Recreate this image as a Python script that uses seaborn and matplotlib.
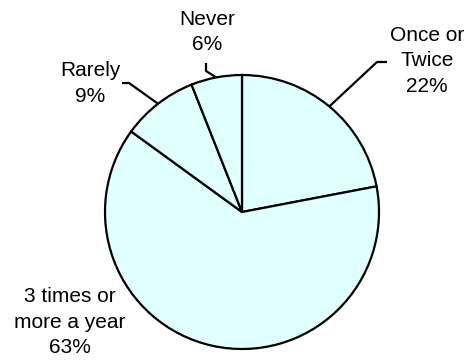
import numpy as np
import matplotlib
matplotlib.use("Agg")
import matplotlib.pyplot as plt
import seaborn as sns

# Survey answers, drawn clockwise from 12 o'clock
categories = ["Once or\nTwice", "3 times or\nmore a year", "Rarely", "Never"]
shares = [22, 63, 9, 6]
pct_labels = ["22%", "63%", "9%", "6%"]

sns.set_theme(style="white")
plt.rcParams["font.family"] = ["Liberation Sans", "DejaVu Sans"]

fig = plt.figure(figsize=(4.68, 3.6), dpi=100)
ax = fig.add_axes([0, 0, 1, 1])

center = (242, 148)
radius = 137
wedges, _ = ax.pie(
    shares,
    startangle=90,
    counterclock=False,
    center=center,
    radius=radius,
    colors=["#e0ffff"] * len(shares),
    wedgeprops=dict(edgecolor="black", linewidth=1.6),
    frame=True,
)
ax.set_xlim(0, 468)
ax.set_ylim(0, 360)
ax.set_aspect("equal")
ax.axis("off")

# label placement: text centre, leader elbow, leader end (None = no leader)
layout = [
    dict(text=(427, 299), elbow=(377, 298), end=(387, 298)),
    dict(text=(70, 38), elbow=None, end=None),
    dict(text=(90, 276.5), elbow=(129, 277), end=(122, 277)),
    dict(text=(207, 328), elbow=(206, 289), end=(206, 297)),
]

for w, cat, pct, spec in zip(wedges, categories, pct_labels, layout):
    ax.text(*spec["text"], f"{cat}\n{pct}", ha="center", va="center",
            multialignment="center", fontsize=15, linespacing=1.42,
            color="black")
    if spec["elbow"] is not None:
        mid = np.deg2rad((w.theta1 + w.theta2) / 2)
        ex = center[0] + radius * np.cos(mid)
        ey = center[1] + radius * np.sin(mid)
        ax.plot([ex, spec["elbow"][0], spec["end"][0]],
                [ey, spec["elbow"][1], spec["end"][1]],
                color="black", linewidth=1.6, solid_capstyle="butt")

fig.savefig("out.png", dpi=100)
